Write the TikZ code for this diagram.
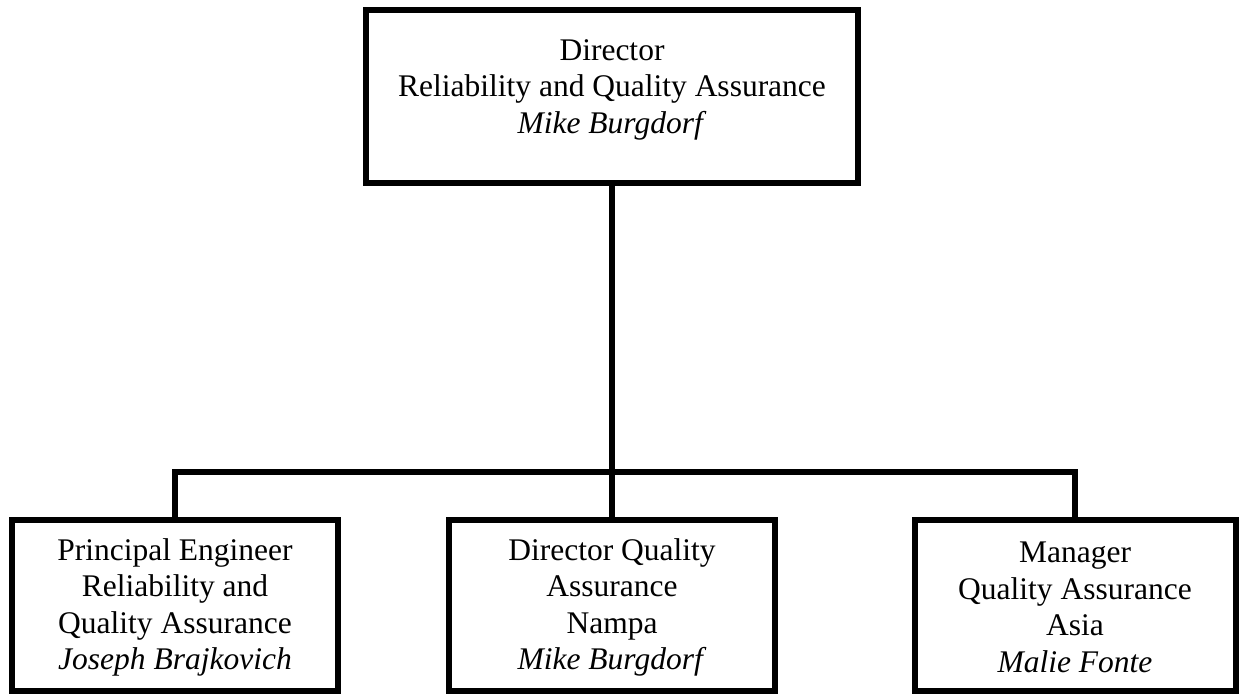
\documentclass[tikz,border=0pt]{standalone}
\usepackage{fontspec}
\setmainfont{Liberation Serif}
\usepackage{xcolor}
\usetikzlibrary{positioning}
\definecolor{ink}{HTML}{000000}
\definecolor{paper}{HTML}{FFFFFF}
\tikzset{
  orgBox/.style={draw=ink, fill=paper, line width=6pt, inner sep=0pt},
  topBox/.style={orgBox, minimum width=492pt, minimum height=173pt},
  subBox/.style={orgBox, minimum width=326pt, minimum height=171pt},
  boxText/.style={text=ink, align=center, inner sep=0pt,
    font=\fontsize{31.5}{36.5}\selectfont},
  link/.style={draw=ink, line width=6pt},
}
\newcommand{\OrgCoords}{%
  \coordinate (topC)  at (612,96.5);
  \coordinate (leftC) at (175,605.5);
  \coordinate (midC)  at (612,605.5);
  \coordinate (rightC) at (1075,605.5);
  \coordinate (bus)   at (612,472);
}

\begin{document}
\begin{tikzpicture}[x=1pt, y=-1pt]
  \useasboundingbox (0,0) rectangle (1239,694);
  \OrgCoords

  % Connectors
  \node[topBox] (dir) at (topC) {};
  \node[subBox] (eng) at (leftC) {};
  \node[subBox] (nampa) at (midC) {};
  \node[subBox, minimum width=321pt] (asia) at (rightC) {};

  \draw[link] (dir.south) -- (nampa.north);
  \draw[link] (eng.north) |- (bus) -| (asia.north);

  % Redraw boxes over the line ends
  \node[topBox] at (topC) {};
  \node[subBox] at (leftC) {};
  \node[subBox] at (midC) {};
  \node[subBox, minimum width=321pt] at (rightC) {};

  % Box texts
  \node[boxText, anchor=north] (dirText) at ([yshift=-32pt]dir.north)
    {Director\\Reliability and Quality Assurance\\\textit{Mike Burgdorf}};
  \node[boxText] (engText) at ([yshift=-2pt]eng)
    {Principal Engineer\\Reliability and\\Quality Assurance\\\textit{Joseph Brajkovich}};
  \node[boxText] (nampaText) at ([yshift=-2pt]nampa)
    {Director Quality\\Assurance\\Nampa\\\textit{Mike Burgdorf}};
  \node[boxText] (asiaText) at ([yshift=-2pt]asia)
    {Manager\\Quality Assurance\\Asia\\\textit{Malie Fonte}};
\end{tikzpicture}
\end{document}
